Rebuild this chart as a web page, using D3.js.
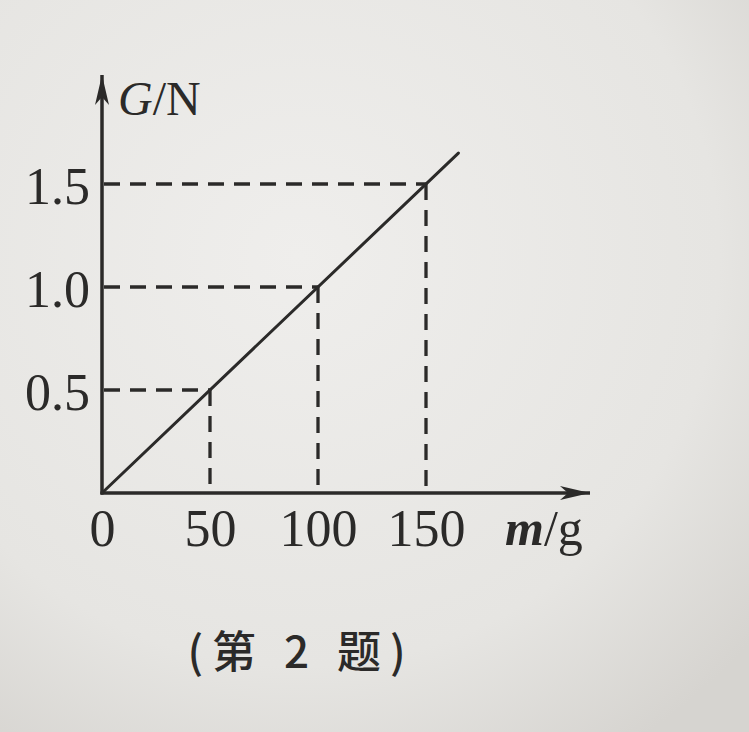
<!DOCTYPE html>
<html>
<head>
<meta charset="utf-8">
<script src="https://cdn.jsdelivr.net/npm/d3@7"></script>
<style>
  html, body { margin: 0; padding: 0; background: #e8e7e4; }
  svg { display: block; }
</style>
</head>
<body>
<div id="chart"></div>
<script>
// values
const massTicks = [50, 100, 150];          // m / g
const weightTicks = [0.5, 1.0, 1.5];       // G / N
const guidePoints = [[50, 0.5], [100, 1.0], [150, 1.5]];
const lineData = [[0, 0], [165, 1.65]];
const xLabel = ["m", "/g"];
const yLabel = ["G", "/N"];
const caption = "(第 2 题)";

const width = 749, height = 732;
const ink = "#2b2a29";

const svg = d3.select("#chart")
    .append("svg")
    .attr("width", width)
    .attr("height", height);

// paper background, a bit of shading like the photo
const defs = svg.append("defs");
const grad = defs.append("radialGradient")
    .attr("id", "paper")
    .attr("cx", "40%").attr("cy", "35%").attr("r", "80%");
grad.append("stop").attr("offset", "0%").attr("stop-color", "#efeeec");
grad.append("stop").attr("offset", "70%").attr("stop-color", "#e6e5e2");
grad.append("stop").attr("offset", "100%").attr("stop-color", "#d6d4d0");
svg.append("rect")
    .attr("width", width).attr("height", height)
    .attr("fill", "url(#paper)");

defs.append("marker")
    .attr("id", "arrow")
    .attr("viewBox", "0 0 30 14")
    .attr("refX", 30).attr("refY", 7)
    .attr("markerWidth", 30).attr("markerHeight", 14)
    .attr("markerUnits", "userSpaceOnUse")
    .attr("orient", "auto")
    .append("path")
    .attr("d", "M0,0 L30,7 L0,14 L8,7 Z")
    .attr("fill", ink);

const x = d3.scaleLinear().domain([0, 150]).range([102, 426]);
const y = d3.scaleLinear().domain([0, 1.5]).range([493, 184]);

// dashed guides
const guides = svg.append("g")
    .attr("stroke", ink)
    .attr("stroke-width", 3.3)
    .attr("stroke-dasharray", "16,10")
    .attr("fill", "none");

guides.selectAll("line.h")
    .data(guidePoints)
    .enter()
    .append("line")
    .attr("class", "h")
    .attr("x1", x(0) + 2).attr("x2", d => x(d[0]))
    .attr("y1", d => y(d[1])).attr("y2", d => y(d[1]));

guides.selectAll("line.v")
    .data(guidePoints)
    .enter()
    .append("line")
    .attr("class", "v")
    .attr("x1", d => x(d[0])).attr("x2", d => x(d[0]))
    .attr("y1", d => y(d[1])).attr("y2", y(0));

// the G-m line
svg.append("path")
    .datum(lineData)
    .attr("d", d3.line().x(d => x(d[0])).y(d => y(d[1])))
    .attr("stroke", ink)
    .attr("stroke-width", 3)
    .attr("stroke-linecap", "round")
    .attr("fill", "none");

// axes with arrows
svg.append("line")
    .attr("x1", x(0) - 1.5).attr("y1", y(0))
    .attr("x2", 590).attr("y2", y(0))
    .attr("stroke", ink).attr("stroke-width", 3.5)
    .attr("marker-end", "url(#arrow)");

svg.append("line")
    .attr("x1", x(0)).attr("y1", y(0) + 1.5)
    .attr("x2", x(0)).attr("y2", 75)
    .attr("stroke", ink).attr("stroke-width", 3.5)
    .attr("marker-end", "url(#arrow)");

// tick labels through d3 axes
const font = "'Liberation Serif', 'Times New Roman', serif";

const xAxis = svg.append("g")
    .attr("transform", `translate(0,${y(0)})`)
    .call(d3.axisBottom(x).tickValues([0, ...massTicks]).tickSize(0).tickPadding(0));
xAxis.select(".domain").remove();
xAxis.selectAll("text")
    .attr("y", 53)
    .attr("dy", null)
    .attr("font-family", font)
    .attr("font-size", 52)
    .attr("fill", ink);

const yAxis = svg.append("g")
    .attr("transform", `translate(${x(0)},0)`)
    .call(d3.axisLeft(y).tickValues(weightTicks).tickFormat(d3.format(".1f")).tickSize(0).tickPadding(0));
yAxis.select(".domain").remove();
yAxis.selectAll("text")
    .attr("x", -12)
    .attr("dy", 19)
    .attr("font-family", font)
    .attr("font-size", 52)
    .attr("fill", ink);

// axis titles
const yt = svg.append("text")
    .attr("x", 118).attr("y", 115)
    .attr("font-family", font).attr("font-size", 48)
    .attr("fill", ink);
yt.append("tspan").attr("font-style", "italic").text(yLabel[0]);
yt.append("tspan").text(yLabel[1]);

const xt = svg.append("text")
    .attr("x", 505).attr("y", 545)
    .attr("font-family", font).attr("font-size", 50)
    .attr("fill", ink);
xt.append("tspan").attr("font-style", "italic").attr("font-weight", "bold").text(xLabel[0]);
xt.append("tspan").text(xLabel[1]);

// caption
svg.append("text")
    .attr("x", 301).attr("y", 668)
    .attr("text-anchor", "middle")
    .attr("font-family", "'Noto Sans CJK SC', sans-serif")
    .attr("font-size", 44)
    .attr("font-weight", 500)
    .attr("letter-spacing", 9)
    .attr("fill", ink)
    .attr("xml:space", "preserve")
    .text(caption);
</script>
</body>
</html>
